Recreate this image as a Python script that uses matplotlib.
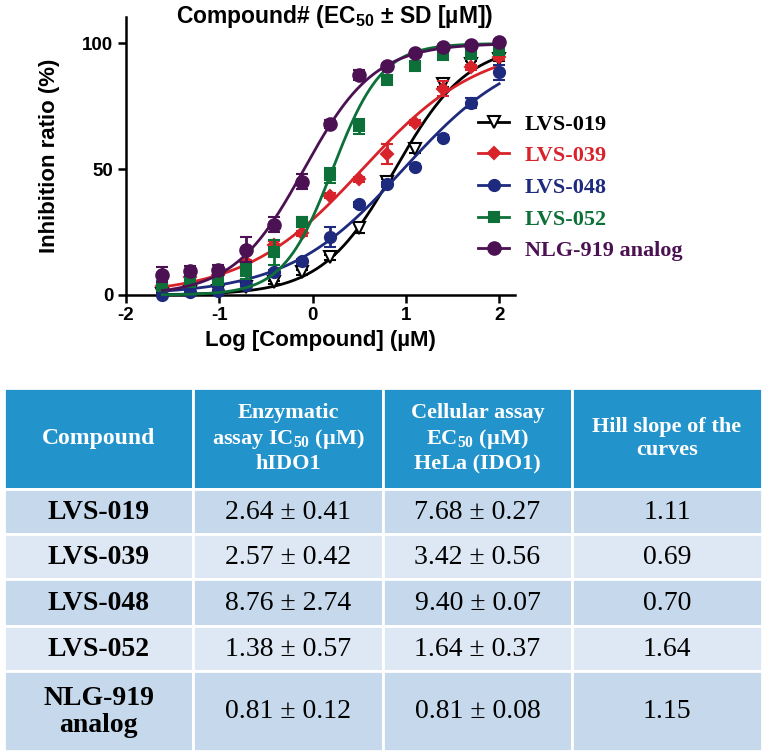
import numpy as np
import matplotlib
matplotlib.use("Agg")
import matplotlib.pyplot as plt
import matplotlib.patches as patch

plt.rcParams['mathtext.fontset'] = 'custom'
plt.rcParams['mathtext.rm'] = 'Liberation Serif:bold'
plt.rcParams['mathtext.sf'] = 'Liberation Sans:bold'
plt.rcParams['axes.unicode_minus'] = False

# dose series (log uM)
log_conc = [-1.61, -1.31, -1.01, -0.71, -0.41, -0.11, 0.19, 0.50, 0.80, 1.10, 1.40, 1.70, 2.00]

names = ["LVS-019", "LVS-039", "LVS-048", "LVS-052", "NLG-919 analog"]

# inhibition ratio (%)
inh_019 = [0.5, 1.0, 1.5, 3.0, 5.0, 9.0, 15.0, 26.5, 45.0, 58.0, 84.0, 92.0, 94.0]
inh_039 = [3.5, 7.0, 8.0, 13.0, 20.0, 24.5, 39.5, 46.0, 56.0, 68.5, 82.0, 90.5, 94.5]
inh_048 = [0.0, 1.0, 1.5, 4.0, 9.0, 13.5, 23.0, 36.0, 44.0, 51.0, 62.5, 76.5, 88.5]
inh_052 = [3.5, 5.0, 6.0, 9.5, 17.0, 29.0, 47.5, 67.0, 85.5, 91.0, 95.5, 96.0, 97.5]
inh_919 = [8.0, 9.5, 10.0, 18.0, 28.0, 45.0, 68.0, 87.5, 91.0, 96.0, 98.5, 99.3, 100.5]

sd_019 = [0.5, 0.5, 0.5, 0.5, 0.5, 1.0, 1.0, 2.0, 1.0, 1.5, 1.5, 1.0, 1.0]
sd_039 = [1.0, 3.0, 1.5, 1.0, 1.5, 1.0, 1.0, 1.0, 4.0, 1.0, 3.0, 1.0, 1.0]
sd_048 = [0.5, 0.5, 0.5, 0.5, 1.0, 1.0, 4.0, 1.0, 1.0, 1.0, 1.0, 2.0, 3.0]
sd_052 = [2.0, 1.0, 1.5, 3.0, 5.0, 2.0, 3.0, 3.0, 1.5, 1.0, 1.0, 2.0, 1.5]
sd_919 = [3.0, 2.0, 2.0, 5.0, 3.0, 3.0, 1.5, 2.0, 1.0, 1.0, 1.0, 1.0, 1.0]

# table values
ic50_mean = [2.64, 2.57, 8.76, 1.38, 0.81]
ic50_sd = [0.41, 0.42, 2.74, 0.57, 0.12]
ec50_mean = [7.68, 3.42, 9.40, 1.64, 0.81]
ec50_sd = [0.27, 0.56, 0.07, 0.37, 0.08]
hill_slope = [1.11, 0.69, 0.70, 1.64, 1.15]

colors = ['black', '#D8232A', '#1E2A7E', '#0C7038', '#4B1152']
markers = ['v', 'D', 'o', 's', 'o']
msizes = [8, 6, 8, 7.5, 9]

fig = plt.figure(figsize=(7.66, 7.54), dpi=100)

ax = fig.add_axes([126/766, 1-295/754, (515-126)/766, (295-17)/754])
ax.patch.set_alpha(0)

series = [inh_019, inh_039, inh_048, inh_052, inh_919]
sds = [sd_019, sd_039, sd_048, sd_052, sd_919]
xfit = np.linspace(log_conc[0], log_conc[-1], 300)
for i in range(5):
    c = colors[i]
    yfit = 100 / (1 + 10 ** ((np.log10(ec50_mean[i]) - xfit) * hill_slope[i]))
    ax.plot(xfit, yfit, color=c, lw=2, zorder=2 + i, clip_on=False)
    mfc = 'white' if markers[i] == 'v' else c
    ax.errorbar(log_conc, series[i], yerr=sds[i], fmt=markers[i], color=c, mfc=mfc,
                mec=c, mew=1.5, ms=msizes[i], elinewidth=2, capsize=4, capthick=2,
                zorder=2.5 + i, clip_on=False)

ax.set_xlim(-2, 2.17)
ax.set_ylim(0, 110.5)
ax.set_xticks([-2, -1, 0, 1, 2])
ax.set_yticks([0, 50, 100])
for s in ['top', 'right']:
    ax.spines[s].set_visible(False)
for s in ['left', 'bottom']:
    ax.spines[s].set_linewidth(1.8)
ax.tick_params(direction='out', length=6, width=1.8, labelsize=13.5, pad=3)
for lab in ax.get_xticklabels() + ax.get_yticklabels():
    lab.set_fontfamily('Liberation Sans')
    lab.set_fontweight('bold')

ax.set_xlabel("Log [Compound] (µM)", fontsize=16, fontweight='bold', family='Liberation Sans', labelpad=4)
ax.set_ylabel("Inhibition ratio (%)", fontsize=16, fontweight='bold', family='Liberation Sans', labelpad=16)

fig.text(335/766, 1-16/754, r"Compound# (EC$_{\mathsf{50}}$ ± SD [µM])", ha='center', va='center',
         fontsize=16.5, fontweight='bold', family='Liberation Sans')

# legend
handles = []
for i in range(5):
    mfc = 'white' if markers[i] == 'v' else colors[i]
    h, = ax.plot([], [], color=colors[i], marker=markers[i], ms=msizes[i], mfc=mfc, mec=colors[i],
                 mew=1.5, lw=2)
    handles.append(h)
leg = fig.legend(handles, names, loc='upper left', bbox_to_anchor=(478/766, 1-114/754),
                 frameon=False, borderpad=0, borderaxespad=0, handlelength=1.4,
                 handletextpad=0.7, labelspacing=0.5, numpoints=1,
                 prop={'family': 'Liberation Serif', 'weight': 'bold', 'size': 16})
for t, c in zip(leg.get_texts(), colors):
    t.set_color(c)

# table
tax = fig.add_axes([0, 0, 1, 1], zorder=-1)
tax.set_xlim(0, 766)
tax.set_ylim(754, 0)
tax.axis('off')

col_edges = [4, 193, 383, 572, 762]
row_edges = [388, 489, 534, 579, 626, 671, 751]
header_color = '#2393CB'
row_colors = ['#C6D9EC', '#DEE8F4']

header = ["Compound",
          "Enzymatic\nassay IC$_{\\mathrm{50}}$ (µM)\nhIDO1",
          "Cellular assay\nEC$_{\\mathrm{50}}$ (µM)\nHeLa (IDO1)",
          "Hill slope of the\ncurves"]
comp_labels = ["LVS-019", "LVS-039", "LVS-048", "LVS-052", "NLG-919\nanalog"]

for j in range(4):
    x0, x1 = col_edges[j], col_edges[j + 1]
    y0, y1 = row_edges[0], row_edges[1]
    tax.add_patch(patch.Rectangle((x0, y0), x1 - x0, y1 - y0, facecolor=header_color,
                                  edgecolor='white', lw=2))
    fs = 17 if j == 0 else 16
    tax.text((x0 + x1) / 2, (y0 + y1) / 2, header[j], ha='center', va='center', color='white',
             fontsize=fs, fontweight='bold', family='Liberation Serif', linespacing=1.22)

for i in range(5):
    y0, y1 = row_edges[i + 1], row_edges[i + 2]
    cells = [comp_labels[i],
             f"{ic50_mean[i]:.2f} ± {ic50_sd[i]:.2f}",
             f"{ec50_mean[i]:.2f} ± {ec50_sd[i]:.2f}",
             f"{hill_slope[i]:.2f}"]
    for j in range(4):
        x0, x1 = col_edges[j], col_edges[j + 1]
        tax.add_patch(patch.Rectangle((x0, y0), x1 - x0, y1 - y0, facecolor=row_colors[i % 2],
                                      edgecolor='white', lw=2))
        tax.text((x0 + x1) / 2, (y0 + y1) / 2 + 1, cells[j], ha='center', va='center', color='black',
                 fontsize=20, fontweight='bold' if j == 0 else 'normal',
                 family='Liberation Serif', linespacing=1.15)

fig.savefig("out.png", dpi=100)
